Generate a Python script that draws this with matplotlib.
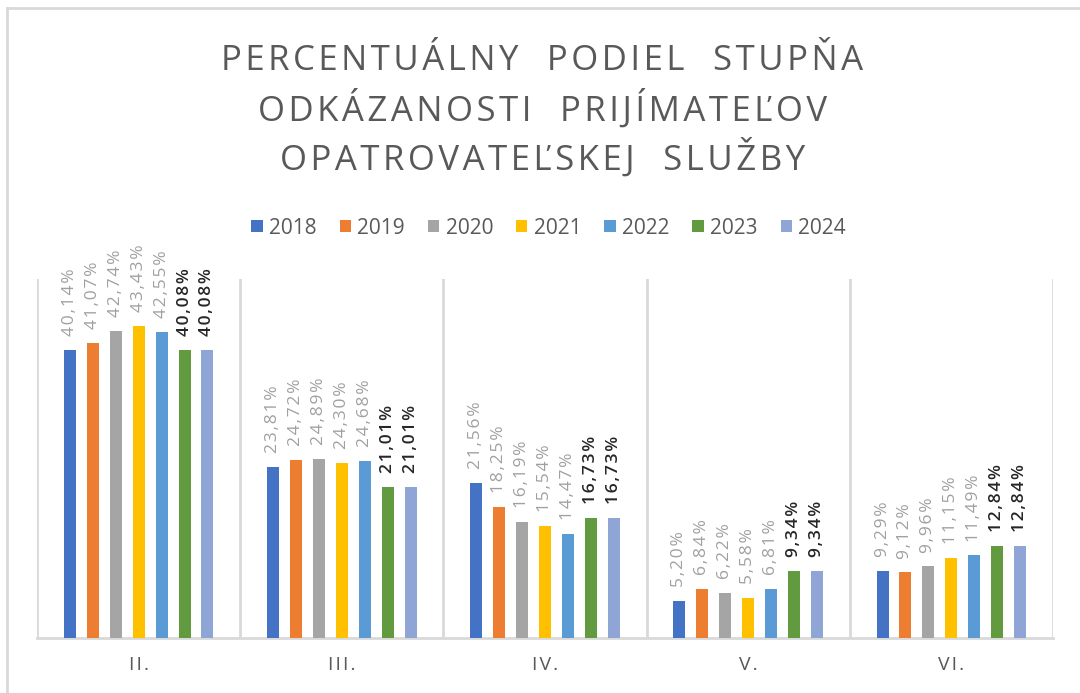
import matplotlib
matplotlib.use("Agg")
import matplotlib.pyplot as plt
import numpy as np
from matplotlib.lines import Line2D

plt.rcParams["font.family"] = ["Open Sans", "DejaVu Sans"]

categories = ["II.", "III.", "IV.", "V.", "VI."]
years = ["2018", "2019", "2020", "2021", "2022", "2023", "2024"]
values = {
    "2018": [40.14, 23.81, 21.56, 5.20, 9.29],
    "2019": [41.07, 24.72, 18.25, 6.84, 9.12],
    "2020": [42.74, 24.89, 16.19, 6.22, 9.96],
    "2021": [43.43, 24.30, 15.54, 5.58, 11.15],
    "2022": [42.55, 24.68, 14.47, 6.81, 11.49],
    "2023": [40.08, 21.01, 16.73, 9.34, 12.84],
    "2024": [40.08, 21.01, 16.73, 9.34, 12.84],
}
colors = ["#4472C4", "#ED7D31", "#A5A5A5", "#FFC000", "#5B9BD5", "#629B3F", "#8EA5D6"]
title_lines = ["PERCENTUÁLNY  PODIEL  STUPŇA",
               "ODKÁZANOSTI  PRIJÍMATEĽOV",
               "OPATROVATEĽSKEJ  SLUŽBY"]

HS = "\u200a"


def spaced(s):
    return HS.join(s)


fig = plt.figure(figsize=(10.8, 6.93), dpi=100)
ax = fig.add_axes([37 / 1080, 1 - 638 / 693, (1053 - 37) / 1080, 0.5185])

# chart frame (only top / left visible in the crop)
fig.add_artist(Line2D([7 / 1080, 7 / 1080], [0, 1 - 8 / 693], transform=fig.transFigure,
                      color="#d9d9d9", lw=2))
fig.add_artist(Line2D([7 / 1080, 1], [1 - 8 / 693, 1 - 8 / 693], transform=fig.transFigure,
                      color="#d9d9d9", lw=2))

x = np.arange(len(categories))
pitch = 0.113
width = 0.059
for i, (yr, col) in enumerate(zip(years, colors)):
    xs = x + (i - 3) * pitch
    bars = ax.bar(xs, values[yr], width=width, color=col, label=yr, zorder=3)
    strong = yr in ("2023", "2024")
    labels = [spaced(f"{v:.2f}%".replace(".", ",")) for v in values[yr]]
    ax.bar_label(bars, labels=labels, rotation=90, padding=10,
                 fontsize=12.5, color="#262626" if strong else "#a0a0a0",
                 fontweight="semibold" if strong else "normal")

for b in np.arange(len(categories) + 1) - 0.5:
    ax.axvline(b, color="#d9d9d9", lw=2, zorder=1)

ax.set_xlim(-0.5, len(categories) - 0.5)
ax.set_ylim(0, 50)
ax.set_yticks([])
ax.set_xticks(x)
ax.set_xticklabels([spaced(c) for c in categories], fontsize=14, color="#595959")
ax.tick_params(axis="x", length=0, pad=13)
for s in ("top", "right", "left"):
    ax.spines[s].set_visible(False)
ax.spines["bottom"].set_color("#d9d9d9")
ax.spines["bottom"].set_linewidth(2)

for line, yp in zip(title_lines, [61, 109, 158]):
    fig.text(0.502, 1 - yp / 693, spaced(line), ha="center", va="center",
             fontsize=25, color="#595959")

ax.legend(loc="center", bbox_to_anchor=(0.508, 1 - 228 / 693), bbox_transform=fig.transFigure,
          ncol=7, frameon=False, fontsize=15, handlelength=0.55, handleheight=0.55,
          handletextpad=0.3, columnspacing=1.1, labelcolor="#595959")

fig.savefig("out.png", dpi=100)
